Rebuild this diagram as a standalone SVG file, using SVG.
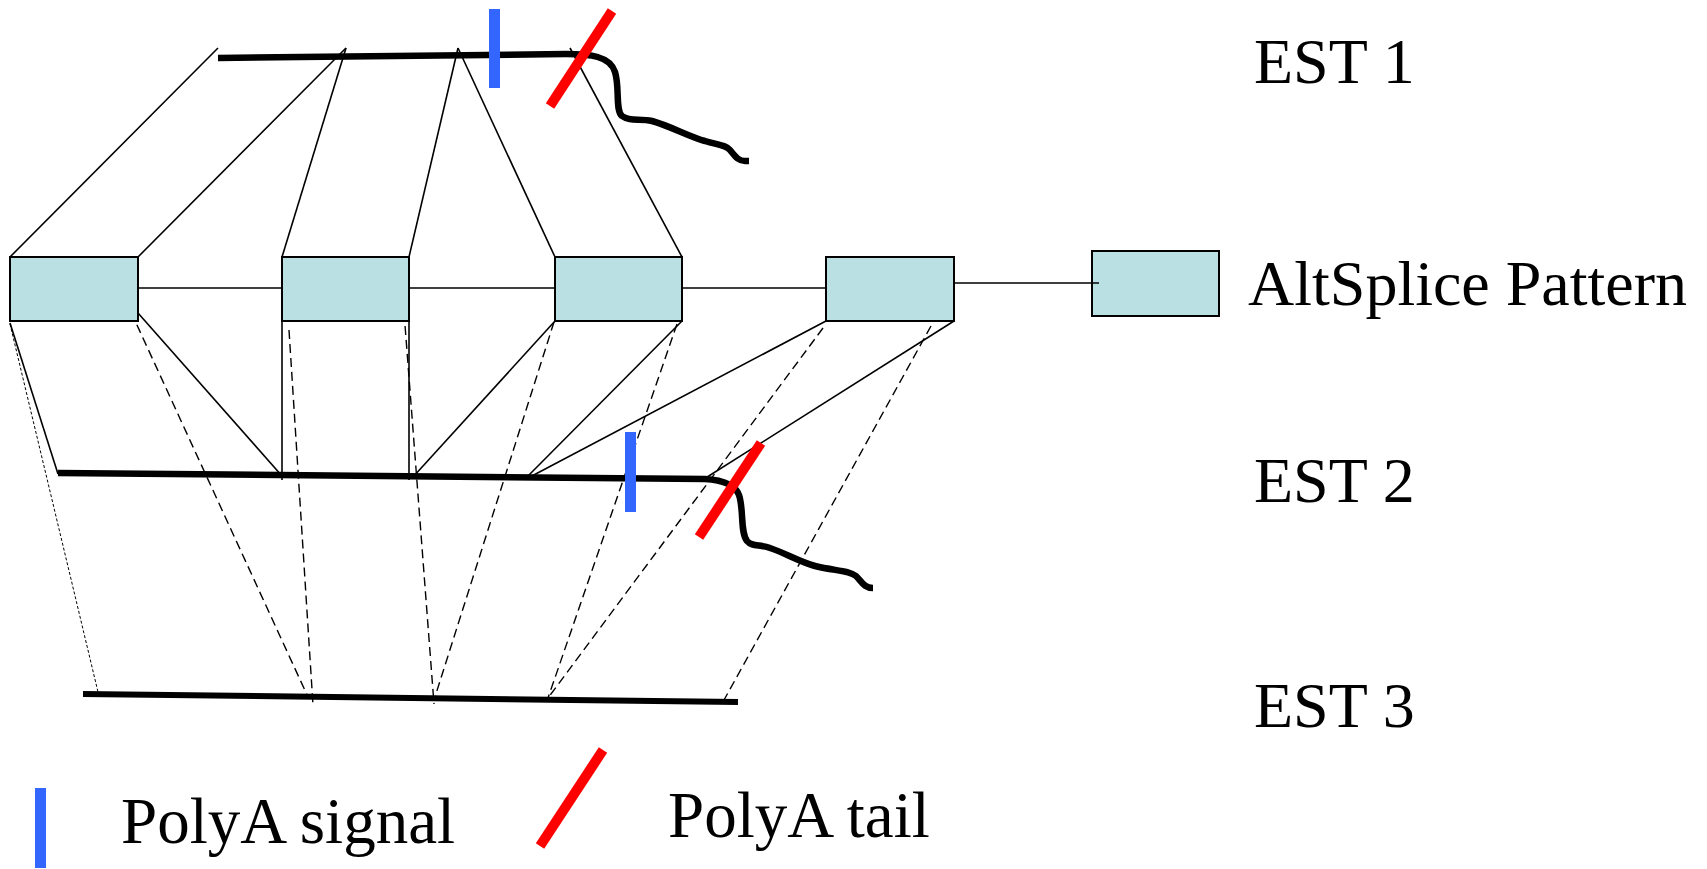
<svg xmlns="http://www.w3.org/2000/svg" width="1707" height="869" viewBox="0 0 1707 869">
<style>
.box{fill:#BAE0E3;stroke:#000;stroke-width:2}
.thin{stroke:#000;stroke-width:1.6;fill:none}
.dash{stroke:#000;stroke-width:1.4;fill:none;stroke-dasharray:9 5}
.dot{stroke:#000;stroke-width:1;fill:none;stroke-dasharray:3 2}
.est{stroke:#000;stroke-width:6;fill:none}
.curl{stroke:#000;stroke-width:6.5;fill:none;stroke-linejoin:round}
.sig{fill:#3366FF}
.tail{stroke:#FF0000;stroke-width:10;fill:none}
.lbl{font-family:"Liberation Serif","Times New Roman",serif;font-size:64px;fill:#000}
.leg{font-size:65px}
</style>
<rect width="1707" height="869" fill="#fff"/>
<g id="connectors">
<line class="thin" x1="10" y1="257" x2="218" y2="48"/>
<line class="thin" x1="138" y1="257" x2="346" y2="48"/>
<line class="thin" x1="282" y1="257" x2="346" y2="48"/>
<line class="thin" x1="409" y1="257" x2="458" y2="48"/>
<line class="thin" x1="555" y1="257" x2="458" y2="48"/>
<line class="thin" x1="682" y1="257" x2="570" y2="48"/>
<line class="thin" x1="138" y1="288" x2="282" y2="288"/>
<line class="thin" x1="409" y1="288" x2="555" y2="288"/>
<line class="thin" x1="682" y1="288" x2="826" y2="288"/>
<line class="thin" x1="10" y1="323" x2="58" y2="474"/>
<line class="thin" x1="138" y1="313" x2="282" y2="476"/>
<line class="thin" x1="282" y1="321" x2="282" y2="480"/>
<line class="thin" x1="409" y1="321" x2="409" y2="480"/>
<line class="thin" x1="555" y1="321" x2="413" y2="477"/>
<line class="thin" x1="682" y1="321" x2="527" y2="477"/>
<line class="thin" x1="826" y1="321" x2="530" y2="477"/>
<line class="thin" x1="954" y1="321" x2="704" y2="479"/>
<line class="dot" x1="10" y1="324" x2="98" y2="692"/>
<line class="dash" x1="131" y1="312" x2="308" y2="697"/>
<line class="dash" x1="289" y1="330" x2="313" y2="705"/>
<line class="dash" x1="404" y1="312" x2="434" y2="704"/>
<line class="dash" x1="554" y1="322" x2="434" y2="700"/>
<line class="dash" x1="677" y1="324" x2="548" y2="698"/>
<line class="dash" x1="823" y1="328" x2="548" y2="698"/>
<line class="dash" x1="931" y1="326" x2="724" y2="700"/>
</g>
<g id="box1"><rect class="box" x="10" y="257" width="128" height="64"/></g>
<g id="box2"><rect class="box" x="282" y="257" width="127" height="64"/></g>
<g id="box3"><rect class="box" x="555" y="257" width="127" height="64"/></g>
<g id="box4"><rect class="box" x="826" y="257" width="128" height="64"/></g>
<g id="altsplice"><rect class="box" x="1092" y="251" width="127" height="65"/></g>
<line class="thin" x1="954" y1="283" x2="1099" y2="283"/>
<g id="est1">
<path class="curl" d="M218,58 L566,54 C590,54 610,56 615,72 C620,88 615,110 622,116 C630,122 640,118 652,121 C670,126 690,137 705,141 C718,145 726,145 730,150 C735,156 738,161 745,161 L749,161"/>
<rect class="sig" x="489" y="9" width="11" height="79"/>
<line class="tail" x1="612" y1="11" x2="550" y2="106"/>
</g>
<g id="est2">
<path class="curl" d="M58,473 L705,479 C722,480 735,484 739,495 C744,510 740,532 747,541 C752,547 760,544 770,548 C785,553 800,562 815,566 C835,571 848,570 856,576 C862,582 864,588 873,588"/>
<rect class="sig" x="625" y="432" width="11" height="80"/>
<line class="tail" x1="761" y1="443" x2="699" y2="537"/>
</g>
<g id="est3">
<line class="est" x1="83" y1="694" x2="738" y2="702"/>
</g>
<g id="labels">
<text class="lbl" x="1254" y="83">EST 1</text>
<text class="lbl" x="1248" y="305">AltSplice Pattern</text>
<text class="lbl" x="1254" y="502">EST 2</text>
<text class="lbl" x="1254" y="727">EST 3</text>
</g>
<g id="legend">
<rect class="sig" x="35" y="788" width="11" height="80"/>
<text class="lbl leg" x="121" y="843">PolyA signal</text>
<line class="tail" x1="603" y1="750" x2="540" y2="846"/>
<text class="lbl leg" x="668" y="837">PolyA tail</text>
</g>
</svg>
